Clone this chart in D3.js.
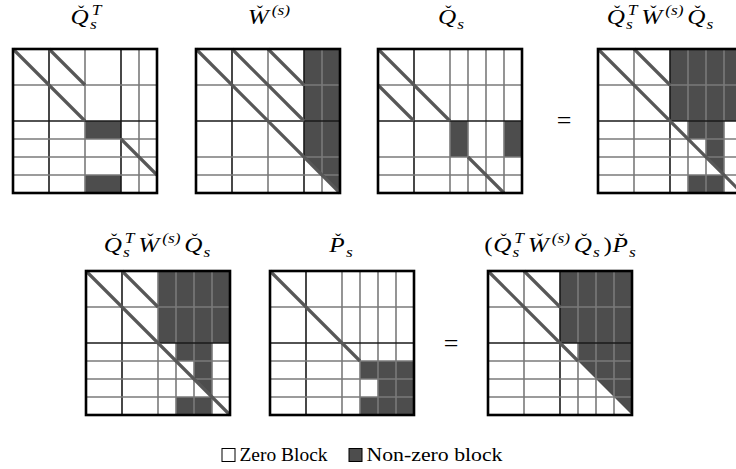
<!DOCTYPE html>
<html><head><meta charset="utf-8">
<script src="https://cdn.jsdelivr.net/npm/d3@7"></script>
<style>body{margin:0;background:#fff}svg{display:block}</style>
</head><body>
<svg id="c" width="736" height="469"></svg>
<script>
// ---- data (units of the 8x8 grid) ----
const names = ["QT","W","Q","QTWQ_top","QTWQ","P","QTWQP"];
const colBlocks = {
  QT:[2,2,2,1,1], W:[2,2,2,1,1], Q:[2,2,1,1,1,1], QTWQ_top:[2,2,1,1,1,1],
  QTWQ:[2,2,1,1,1,1], P:[2,2,1,1,1,1], QTWQP:[2,2,1,1,1,1]
};
const rowBlocks = {
  QT:[2,2,1,1,1,1], W:[2,2,2,1,1], Q:[2,2,2,1,1], QTWQ_top:[2,2,1,1,1,1],
  QTWQ:[2,2,1,1,1,1], P:[2,2,1,1,1,1], QTWQP:[2,2,1,1,1,1]
};
// whether inner vertical / horizontal lines are dark (1) or gray (0)
const colLineDark = {
  QT:[1,0,1,0], W:[1,0,1,0], Q:[1,0,0,0,0], QTWQ_top:[0,1,0,0,0],
  QTWQ:[1,0,0,0,0], P:[1,0,0,0,0], QTWQP:[0,1,0,0,0]
};
const rowLineDark = {
  QT:[0,1,0,0,0], W:[0,1,0,0], Q:[0,1,0,0], QTWQ_top:[0,1,0,0,0],
  QTWQ:[0,1,0,0,0], P:[0,1,0,0,0], QTWQP:[0,1,0,0,0]
};
// non-zero cells: [row, col, kind]  kind "f" = full cell, "u" = upper triangle
const cellsQT = [[4,4,"f"],[4,5,"f"],[7,4,"f"],[7,5,"f"]];
const cellsW = [[0,6,"f"],[0,7,"f"],[1,6,"f"],[1,7,"f"],[2,6,"f"],[2,7,"f"],
                [3,6,"f"],[3,7,"f"],[4,6,"f"],[4,7,"f"],[5,6,"f"],[5,7,"f"],
                [6,6,"u"],[6,7,"f"],[7,7,"u"]];
const cellsQ = [[4,4,"f"],[5,4,"f"],[4,7,"f"],[5,7,"f"]];
const cellsQTWQ = [[0,4,"f"],[0,5,"f"],[0,6,"f"],[0,7,"f"],[1,4,"f"],[1,5,"f"],[1,6,"f"],[1,7,"f"],
                   [2,4,"f"],[2,5,"f"],[2,6,"f"],[2,7,"f"],[3,4,"f"],[3,5,"f"],[3,6,"f"],[3,7,"f"],
                   [4,5,"f"],[4,6,"f"],[5,6,"f"],[6,6,"u"],[7,5,"f"],[7,6,"f"]];
const cellsP = [[5,5,"f"],[5,6,"f"],[5,7,"f"],[6,6,"f"],[6,7,"f"],[7,5,"f"],[7,6,"f"],[7,7,"f"]];
const cellsQTWQP = [[0,4,"f"],[0,5,"f"],[0,6,"f"],[0,7,"f"],[1,4,"f"],[1,5,"f"],[1,6,"f"],[1,7,"f"],
                    [2,4,"f"],[2,5,"f"],[2,6,"f"],[2,7,"f"],[3,4,"f"],[3,5,"f"],[3,6,"f"],[3,7,"f"],
                    [4,5,"f"],[4,6,"f"],[4,7,"f"],[5,5,"u"],[5,6,"f"],[5,7,"f"],
                    [6,6,"u"],[6,7,"f"],[7,7,"u"]];
const cells = {QT:cellsQT, W:cellsW, Q:cellsQ, QTWQ_top:cellsQTWQ, QTWQ:cellsQTWQ, P:cellsP, QTWQP:cellsQTWQP};
// diagonal identity strokes: [x1,y1,x2,y2] in grid units
const diags = {
  QT:[[0,0,4,4],[2,0,4,2],[6,5,8,7]],
  W:[[0,0,8,8],[2,0,6,4],[4,0,6,2]],
  Q:[[0,0,4,4],[0,2,2,4],[5,6,7,8]],
  QTWQ_top:[[0,0,8,8],[2,0,4,2]],
  QTWQ:[[0,0,8,8],[2,0,4,2]],
  P:[[0,0,5,5]],
  QTWQP:[[0,0,5,5],[2,0,4,2]]
};
const legendLabels = ["Zero Block","Non-zero block"];

// ---- layout ----
const origin = {QT:[13,49], W:[196,49], Q:[378,49], QTWQ_top:[598,49],
                QTWQ:[86,271], P:[270,271], QTWQP:[488,271]};
const SIZE = 144;
const FILL = "#4d4d4d";
const svg = d3.select("#c");
const serif = "'Liberation Serif','DejaVu Serif',serif";

names.forEach(n => {
  const [ox, oy] = origin[n];
  const x = d3.scaleLinear().domain([0,8]).range([ox, ox+SIZE]);
  const y = d3.scaleLinear().domain([0,8]).range([oy, oy+SIZE]);
  const g = svg.append("g");
  g.append("rect").attr("x",x(0)).attr("y",y(0)).attr("width",x(8)-x(0)).attr("height",y(8)-y(0)).attr("fill","#fff");
  g.selectAll("path.cell").data(cells[n]).join("path").attr("class","cell")
    .attr("fill",FILL)
    .attr("d",([r,c,k]) => k==="f"
      ? `M${x(c)},${y(r)}H${x(c+1)}V${y(r+1)}H${x(c)}Z`
      : `M${x(c)},${y(r)}H${x(c+1)}V${y(r+1)}Z`);
  const cb = d3.cumsum(colBlocks[n]).slice(0,-1);
  const rb = d3.cumsum(rowBlocks[n]).slice(0,-1);
  g.selectAll("line.v").data(cb).join("line").attr("class","v")
    .attr("x1",d=>x(d)).attr("x2",d=>x(d)).attr("y1",y(0)).attr("y2",y(8))
    .attr("stroke",(d,i)=>colLineDark[n][i]?"#1a1a1a":"#7a7a7a").attr("stroke-width",1.6);
  g.selectAll("line.h").data(rb).join("line").attr("class","h")
    .attr("y1",d=>y(d)).attr("y2",d=>y(d)).attr("x1",x(0)).attr("x2",x(8))
    .attr("stroke",(d,i)=>rowLineDark[n][i]?"#1a1a1a":"#7a7a7a").attr("stroke-width",1.6);
  g.selectAll("line.d").data(diags[n]).join("line").attr("class","d")
    .attr("x1",d=>x(d[0])).attr("y1",d=>y(d[1])).attr("x2",d=>x(d[2])).attr("y2",d=>y(d[3]))
    .attr("stroke","#575757").attr("stroke-width",3.2);
  g.append("rect").attr("x",x(0)).attr("y",y(0)).attr("width",x(8)-x(0)).attr("height",y(8)-y(0))
    .attr("fill","none").attr("stroke","#000").attr("stroke-width",2.6);
});

// ---- math titles ----
const FS = 21, SS = 14.5, SX = 1.2;
function mathTitle(tokens, cx, base) {
  const g = svg.append("g");
  let xp = 0, lastGap = 0;
  tokens.forEach(t => {
    if (t.s !== undefined) {
      const tx = g.append("text").attr("x",xp).attr("y",0).text(t.s)
        .attr("font-family",serif).attr("font-size",FS)
        .attr("font-style",t.up?"normal":"italic");
      const w = tx.node().getComputedTextLength();
      if (t.caron) {
        g.append("text").attr("x",xp + w*0.58).attr("y",-FS*0.32).attr("text-anchor","middle")
          .text("ˇ").attr("font-family",serif).attr("font-size",FS*0.75);
      }
      lastGap = t.up ? 0.5 : 1;
      xp += w + lastGap;
    } else {
      let w = 0;
      if (t.sup) {
        const a = g.append("text").attr("x",xp+1.5).attr("y",-9).text(t.sup)
          .attr("font-family",serif).attr("font-size",SS).attr("font-style","italic");
        w = Math.max(w, a.node().getComputedTextLength() + 1.5);
      }
      if (t.sub) {
        const b = g.append("text").attr("x",xp).attr("y",5).text(t.sub)
          .attr("font-family",serif).attr("font-size",SS).attr("font-style","italic");
        w = Math.max(w, b.node().getComputedTextLength());
      }
      lastGap = 3;
      xp += w + lastGap;
    }
  });
  const W = (xp - lastGap) * SX;
  g.attr("transform",`translate(${cx - W/2},${base}) scale(${SX},1)`);
}
const Qs = [{s:"Q",caron:true},{sub:"s"}];
const QsT = [{s:"Q",caron:true},{sub:"s",sup:"T"}];
const Ws = [{s:"W",caron:true},{sup:"(s)"}];
mathTitle(QsT, 86, 24);
mathTitle(Ws, 269, 24);
mathTitle(Qs, 451, 24);
mathTitle([...QsT,...Ws,...Qs], 660, 24);
mathTitle([...QsT,...Ws,...Qs], 157, 252);
mathTitle([{s:"P",caron:true},{sub:"s"}], 341, 252);
mathTitle([{s:"(",up:true},...QsT,...Ws,...Qs,{s:")",up:true},{s:"P",caron:true},{sub:"s"}], 560, 252);

// equals signs
svg.append("text").attr("x",564).attr("y",129).attr("text-anchor","middle").text("=")
  .attr("font-family",serif).attr("font-size",26);
svg.append("text").attr("x",451).attr("y",352).attr("text-anchor","middle").text("=")
  .attr("font-family",serif).attr("font-size",26);

// ---- legend ----
const lg = svg.append("g");
const lx = [222, 349];
const lw = [88, 136];
lg.selectAll("rect").data(legendLabels).join("rect")
  .attr("x",(d,i)=>lx[i]).attr("y",448.5).attr("width",13).attr("height",13)
  .attr("fill",(d,i)=>i?FILL:"#fff").attr("stroke","#000").attr("stroke-width",1);
lg.selectAll("text").data(legendLabels).join("text")
  .attr("x",(d,i)=>lx[i]+17.5).attr("y",461).text(d=>d)
  .attr("textLength",(d,i)=>lw[i]).attr("lengthAdjust","spacingAndGlyphs")
  .attr("font-family",serif).attr("font-size",19);
</script>
</body></html>
